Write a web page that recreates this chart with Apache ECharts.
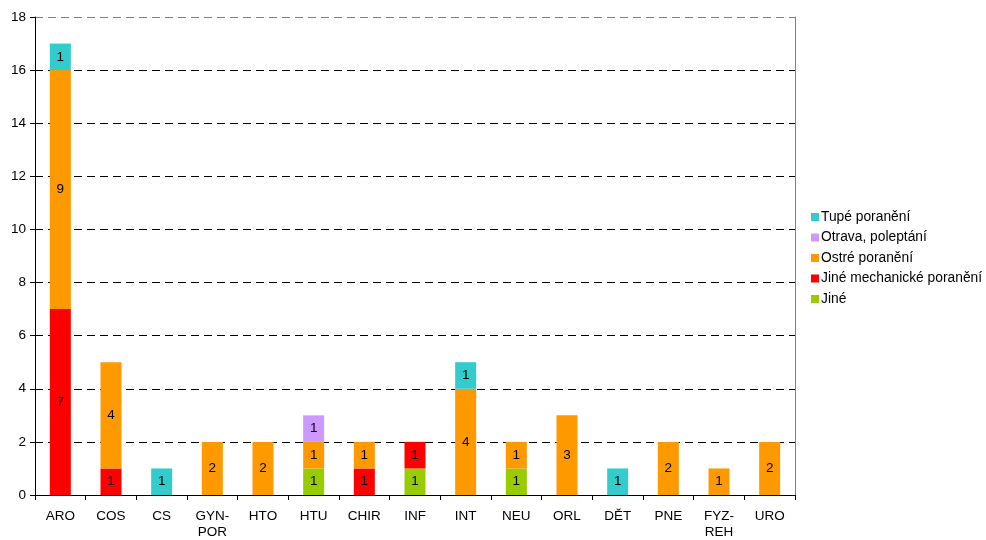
<!DOCTYPE html>
<html><head><meta charset="utf-8">
<script src="https://cdn.jsdelivr.net/npm/echarts@6/dist/echarts.min.js"></script>
<style>html,body{margin:0;padding:0;background:#fff}#c{width:986px;height:540px}</style>
</head><body><div id="c"></div>
<script>
const categories = ['ARO','COS','CS','GYN-\nPOR','HTO','HTU','CHIR','INF','INT','NEU','ORL','DĚT','PNE','FYZ-\nREH','URO'];
const jine        = [null,null,null,null,null,1,null,1,null,1,null,null,null,null,null];
const jineMech    = [7,1,null,null,null,null,1,1,null,null,null,null,null,null,null];
const ostre       = [9,4,null,2,2,1,1,null,4,1,3,null,2,1,2];
const otrava      = [null,null,null,null,null,1,null,null,null,null,null,null,null,null,null];
const tupe        = [1,null,1,null,null,null,null,null,1,null,null,1,null,null,null];
const seriesNames = ['Jiné','Jiné mechanické poranění','Ostré poranění','Otrava, poleptání','Tupé poranění'];
const seriesData = [jine, jineMech, ostre, otrava, tupe];
const colors = ['#99CC00','#FF0000','#FF9900','#CC99FF','#33CCCC'];

const font = 'Liberation Sans, Arial, sans-serif';
const chart = echarts.init(document.getElementById('c'));
chart.setOption({
  animation:false,
  textStyle:{fontFamily:font},
  grid:{left:35,right:191,top:17,bottom:42,containLabel:false},
  legend:{
    orient:'vertical', left:806, top:205,
    itemWidth:8, itemHeight:8, itemGap:6.5,
    icon:'rect',
    data:seriesNames.slice().reverse(),
    textStyle:{fontFamily:font,fontSize:13.8,lineHeight:14,color:'#000',padding:[0,0,0,-3]}
  },
  xAxis:{
    type:'category', data:categories,
    axisLine:{lineStyle:{color:'#000',width:1}},
    axisTick:{show:true,length:5,lineStyle:{color:'#000'}},
    axisLabel:{color:'#000',fontSize:13.5,fontFamily:font,margin:13,interval:0,lineHeight:16}
  },
  yAxis:[{
    type:'value', min:0, max:18, interval:2,
    axisLine:{show:true,lineStyle:{color:'#000'}},
    axisTick:{show:true,length:5,lineStyle:{color:'#000'}},
    axisLabel:{color:'#000',fontSize:13.5,fontFamily:font,margin:9},
    splitLine:{show:true,lineStyle:{color:['#000','#000','#000','#000','#000','#000','#000','#000','#000','#808080'],type:[8,5],width:1}}
  },{
    type:'value', min:0, max:18, interval:2, position:'right',
    axisLine:{show:true,lineStyle:{color:'#808080'}},
    axisTick:{show:false}, axisLabel:{show:false}, splitLine:{show:false}
  }],
  series: seriesNames.map((n,i)=>({
    name:n, type:'bar', stack:'s', data:seriesData[i],
    barWidth:21,
    itemStyle:{color:colors[i]},
    label:{show:true,position:'inside',color:'#000',fontSize:13.5,fontFamily:font}
  }))
});
</script></body></html>
